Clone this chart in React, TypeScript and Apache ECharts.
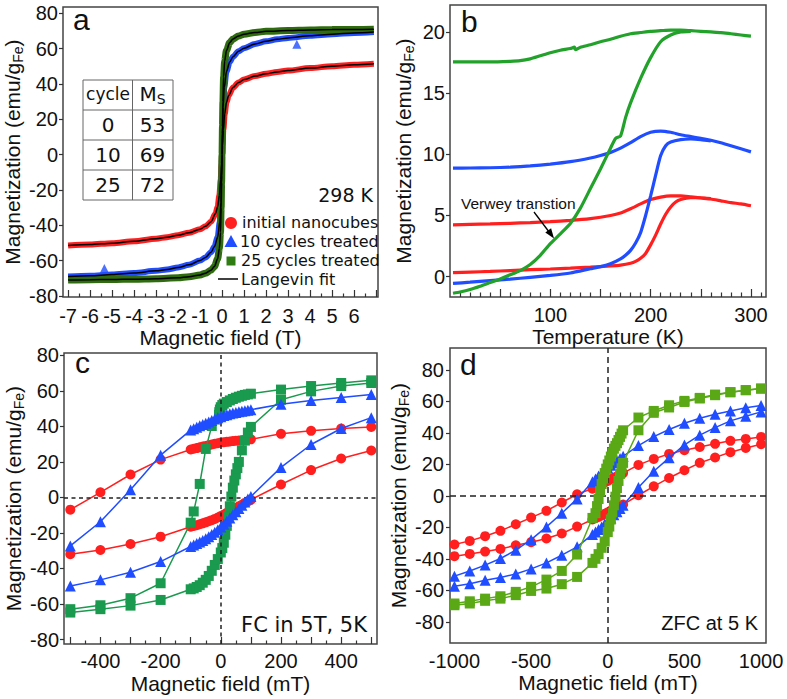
import React, { useEffect, useRef } from 'react';
import * as echarts from 'echarts';

type P = [number, number];

// ---------------- Panel a : M(H) at 298 K ----------------
const aInitial: P[] = [[-7,-51.5],[-6,-50.9],[-5,-50.1],[-4,-49],[-3,-47.6],[-2.5,-46.7],[-2,-45.6],[-1.5,-44.2],[-1,-42.2],[-0.75,-40.6],[-0.5,-38],[-0.3,-33.5],[-0.2,-29.5],[-0.12,-23],[-0.06,-14],[-0.02,-5],[0,0],[0.02,5],[0.06,14],[0.12,23],[0.2,29.5],[0.3,33.5],[0.5,38],[0.75,40.8],[1,42.5],[1.5,44.5],[2,45.8],[2.5,46.8],[3,47.6],[4,49],[5,50.1],[6,50.9],[6.9,51.5]];
const aCycles10: P[] = [[-7,-69],[-6,-68.6],[-5,-67.9],[-4,-67],[-3,-65.8],[-2.5,-65],[-2,-63.9],[-1.5,-62.4],[-1,-60],[-0.75,-58.2],[-0.5,-55.2],[-0.35,-52.2],[-0.2,-46.8],[-0.1,-38],[-0.05,-27],[-0.02,-12],[0,0],[0.02,12],[0.05,27],[0.1,38],[0.2,47],[0.35,52.5],[0.5,55.5],[0.75,58.5],[1,60.3],[1.5,62.7],[2,64.2],[2.5,65.3],[3,66.1],[4,67.3],[5,68.2],[6,68.9],[6.9,69.4]];
const aCycles25: P[] = [[-7,-71],[-6,-70.8],[-5,-70.7],[-4,-70.5],[-3,-70.2],[-2,-69.7],[-1.5,-69.1],[-1,-68.1],[-0.75,-67.1],[-0.5,-65.4],[-0.35,-63.4],[-0.2,-59],[-0.12,-53],[-0.07,-44],[-0.04,-30],[-0.02,-16],[0,0],[0.02,16],[0.04,30],[0.07,44],[0.12,53],[0.2,59],[0.35,63.5],[0.5,65.5],[0.75,67.2],[1,68.2],[1.5,69.2],[2,69.8],[3,70.3],[4,70.6],[5,70.8],[6,70.9],[6.9,71]];
const aOutliers10: P[] = [[-5.35,-64.5],[3.4,62.5]];
const aFieldLabels = [-7,-6,-5,-4,-3,-2,-1,0,1,2,3,4,5,6];
const aFieldMajor = [-7,-6,-5,-4,-3,-2,-1,0,1,2,3,4,5,6,7];
const aFieldMinor = [-6.5,-5.5,-4.5,-3.5,-2.5,-1.5,-0.5,0.5,1.5,2.5,3.5,4.5,5.5,6.5];
const mLabels80 = [-80,-60,-40,-20,0,20,40,60,80];
const tableHead = ['cycle', 'Ms'];
const tableCycles = ['0', '10', '25'];
const tableMs = ['53', '69', '72'];
const legendNames = ['initial nanocubes', '10 cycles treated', '25 cycles treated', 'Langevin fit'];

// ---------------- Panel b : ZFC / FC vs T ----------------
const bInitialZFC: P[] = [[3,0.33],[20,0.38],[40,0.43],[60,0.5],[80,0.57],[100,0.63],[120,0.7],[140,0.78],[160,0.88],[170,0.95],[180,1.1],[185,1.25],[190,1.5],[195,1.9],[200,2.6],[205,3.4],[210,4.3],[215,5.1],[220,5.7],[225,6.1],[230,6.3],[240,6.45],[250,6.45],[260,6.38]];
const bInitialFC: P[] = [[3,4.23],[20,4.27],[40,4.31],[60,4.36],[80,4.42],[100,4.5],[120,4.6],[140,4.75],[160,5.0],[170,5.2],[180,5.55],[190,5.95],[200,6.3],[210,6.5],[220,6.6],[230,6.6],[240,6.52],[250,6.43],[260,6.35],[270,6.2],[280,6.05],[290,5.95],[300,5.8]];
const b10ZFC: P[] = [[3,-0.55],[20,-0.45],[40,-0.32],[60,-0.2],[80,-0.05],[100,0.1],[120,0.3],[140,0.65],[150,0.82],[160,1.05],[170,1.45],[175,1.75],[180,2.15],[185,2.75],[190,3.6],[195,5.0],[200,6.6],[205,8.3],[210,9.9],[215,10.7],[220,11.0],[230,11.2],[240,11.25],[250,11.2],[260,11.1]];
const b10FC: P[] = [[3,8.87],[20,8.88],[40,8.9],[60,8.95],[80,9.05],[100,9.2],[120,9.4],[140,9.7],[150,9.9],[160,10.15],[170,10.5],[180,10.95],[190,11.45],[200,11.8],[210,11.9],[220,11.8],[230,11.6],[240,11.45],[250,11.3],[260,11.15],[270,10.95],[280,10.7],[290,10.45],[300,10.2]];
const b25ZFC: P[] = [[3,-1.35],[10,-1.25],[20,-1.05],[30,-0.78],[40,-0.48],[50,-0.18],[60,0.15],[70,0.5],[80,1.0],[90,1.75],[100,2.7],[110,3.5],[120,4.35],[130,5.6],[140,7.2],[150,8.8],[160,10.5],[165,11.3],[170,11.5],[175,13.0],[180,14.2],[190,16.2],[200,17.9],[210,19.2],[220,19.75],[230,20.0],[240,20.05]];
const b25FC: P[] = [[3,17.55],[20,17.55],[40,17.55],[60,17.6],[70,17.65],[80,17.8],[90,18.05],[100,18.3],[110,18.5],[120,18.65],[124,18.75],[125,18.55],[130,18.75],[140,18.95],[150,19.2],[160,19.4],[170,19.65],[180,19.85],[190,19.95],[200,20.05],[210,20.1],[220,20.15],[230,20.15],[240,20.1],[250,20.05],[260,20.0],[270,19.95],[280,19.85],[290,19.75],[300,19.65]];
const bTempLabels = [100, 200, 300];
const bTempMajor = [50, 100, 150, 200, 250, 300];
const bTempMinor = [10,20,30,40,60,70,80,90,110,120,130,140,160,170,180,190,210,220,230,240,260,270,280,290,310];
const bMLabels = [0, 5, 10, 15, 20];

// ---------------- Panel c : FC in 5 T, 5 K ----------------
const cInitialDesc: P[] = [[500,39.7],[400,38.8],[300,37.5],[200,35.8],[100,32.7],[90,32.6],[80,32.4],[70,32.2],[60,32],[50,31.9],[40,31.7],[30,31.5],[20,31.3],[10,31.1],[0,30.9],[-10,30.5],[-20,30.2],[-30,29.8],[-40,29.4],[-50,29],[-60,28.6],[-70,28.2],[-80,27.8],[-90,27.4],[-100,27],[-200,21.3],[-300,12.9],[-400,2.9],[-500,-6.9]];
const cInitialAsc: P[] = [[-500,-32],[-400,-29.6],[-300,-26.2],[-200,-22.1],[-100,-16.5],[-90,-16.1],[-80,-15.6],[-70,-15.1],[-60,-14.6],[-50,-14],[-40,-13.4],[-30,-12.8],[-20,-12.1],[-10,-11.3],[0,-10.5],[10,-9.6],[20,-8.7],[30,-7.8],[40,-6.9],[50,-6],[60,-5],[70,-4.1],[80,-3.1],[90,-2.2],[100,-1.3],[200,7.3],[300,15.4],[400,21.9],[500,26.4]];
const c10Desc: P[] = [[500,57.9],[400,56.2],[300,54.5],[200,52.4],[100,49.4],[90,49.1],[80,48.8],[70,48.5],[60,48.2],[50,47.8],[40,47.5],[30,47.1],[20,46.6],[10,46.1],[0,45.4],[-10,44.8],[-20,44.1],[-30,43.3],[-40,42.5],[-50,41.8],[-60,41],[-70,40.3],[-80,39.5],[-90,38.7],[-100,37.9],[-200,23.8],[-300,4.3],[-400,-13.7],[-500,-27.3]];
const c10Asc: P[] = [[-500,-49.8],[-400,-46.4],[-300,-42.1],[-200,-36.1],[-100,-27.6],[-90,-26.8],[-80,-26],[-70,-25.1],[-60,-24.2],[-50,-23.2],[-40,-22.1],[-30,-20.9],[-20,-19.6],[-10,-18.2],[0,-16.7],[10,-15.1],[20,-13.4],[30,-11.6],[40,-9.8],[50,-8],[60,-6.2],[70,-4.4],[80,-2.6],[90,-0.9],[100,0.5],[200,16.9],[300,29.8],[400,38.8],[500,44.9]];
const c25Desc: P[] = [[500,65.9],[400,64.4],[300,62.7],[200,60.7],[100,58.4],[90,58],[80,57.7],[70,57.2],[60,56.7],[50,56.1],[40,55.4],[30,54.6],[20,53.7],[10,52.8],[5,52],[0,50.8],[-3,49.5],[-5,48],[-6,46.5],[-30,40.2],[-50,27.3],[-70,7.6],[-90,-7.9],[-100,-14.2],[-200,-48.3],[-300,-56.7],[-400,-60.7],[-500,-62.9]];
const c25Asc: P[] = [[-500,-64.8],[-400,-62.9],[-300,-60.9],[-200,-57.7],[-100,-51.7],[-90,-51.2],[-80,-50.4],[-70,-49.4],[-60,-48],[-50,-46.4],[-40,-44.2],[-30,-41.3],[-20,-38],[-10,-34.7],[0,-31],[5,-28.5],[10,-25.5],[15,-21],[20,-16],[25,-10.5],[30,-5],[35,0.5],[40,5.5],[45,9.5],[50,13],[55,16.5],[60,20],[70,26.5],[80,32],[90,36.5],[100,39.7],[200,55],[300,59.7],[400,62.7],[500,64.4]];
const cFieldLabels = [-400, -200, 0, 200, 400];
const cFieldMajor = [-500,-400,-300,-200,-100,0,100,200,300,400,500];
const cFieldMinor = [-450,-350,-250,-150,-50,50,150,250,350,450];

// ---------------- Panel d : ZFC at 5 K ----------------
const dInitialDesc: P[] = [[1000,37.5],[900,36.2],[800,35],[700,33.1],[600,31.1],[500,29],[400,26.7],[300,23.5],[200,19.7],[100,14.5],[80,13.5],[60,12.5],[40,11.5],[20,10.5],[0,9.5],[-20,8.5],[-40,7.5],[-60,6.5],[-80,5.5],[-100,4.6],[-200,1],[-300,-4.2],[-400,-9.5],[-500,-13.8],[-600,-18],[-700,-22.2],[-800,-25.6],[-900,-28.6],[-1000,-30.9]];
const dInitialAsc: P[] = [[-1000,-38.3],[-900,-36.9],[-800,-35.4],[-700,-33.7],[-600,-31.4],[-500,-29.4],[-400,-27.1],[-300,-23.9],[-200,-19.5],[-100,-15],[-80,-14.2],[-60,-13.3],[-40,-12.4],[-20,-11.4],[0,-10.4],[20,-9.4],[40,-8.4],[60,-7.4],[80,-6.4],[100,-5.5],[200,0.4],[300,6.1],[400,11.4],[500,16.3],[600,21],[700,24.4],[800,27.8],[900,30.5],[1000,32.8]];
const d10Desc: P[] = [[1000,57.4],[900,56],[800,54],[700,51.9],[600,49.4],[500,46.2],[400,42.2],[300,37.7],[200,32],[100,25.2],[80,23.8],[60,22.4],[40,21],[20,19.5],[0,17.8],[-20,16],[-40,14.3],[-60,12.6],[-80,10.8],[-100,9],[-200,-1.9],[-300,-11],[-400,-19.7],[-500,-27.8],[-600,-34.5],[-700,-39.8],[-800,-44],[-900,-47.7],[-1000,-51]];
const d10Asc: P[] = [[-1000,-57.4],[-900,-55.9],[-800,-53.6],[-700,-51.9],[-600,-49.6],[-500,-46.4],[-400,-42.6],[-300,-37.7],[-200,-32.4],[-100,-24.5],[-80,-23],[-60,-21.4],[-40,-19.7],[-20,-17.9],[0,-16],[20,-14],[40,-12],[60,-10],[80,-8],[100,-6],[200,5.3],[300,15.7],[400,24.2],[500,32.4],[600,38.6],[700,43.4],[800,47.7],[900,50.6],[1000,53.4]];
const d25Desc: P[] = [[1000,68.2],[900,67.2],[800,65.9],[700,64.4],[600,62.3],[500,60.4],[400,57.6],[300,54],[200,49.8],[100,41.7],[90,39.6],[80,37.5],[70,35.5],[60,33.5],[50,31.8],[40,30],[30,27.5],[20,25],[10,22.5],[0,20],[-10,17.3],[-20,14.5],[-30,11],[-40,7.5],[-50,3],[-60,-2],[-70,-6.5],[-80,-11],[-100,-14],[-200,-37.3],[-300,-47.7],[-400,-53.2],[-500,-57.8],[-600,-61],[-700,-63.8],[-800,-65.3],[-900,-67],[-1000,-68.4]];
const d25Asc: P[] = [[-1000,-69.5],[-900,-68.4],[-800,-66.7],[-700,-65.3],[-600,-63.1],[-500,-60.4],[-400,-58.9],[-300,-56.1],[-200,-51.5],[-100,-42.6],[-80,-40],[-60,-37],[-40,-33],[-20,-29],[0,-23],[10,-19.5],[20,-15],[30,-10.5],[40,-6],[50,-0.5],[60,5],[70,9.5],[80,14],[90,17.5],[100,21],[200,41.7],[300,52.8],[400,56.2],[500,59.7],[600,61.9],[700,64],[800,65.9],[900,67.2],[1000,68.2]];
const dFieldLabels = [-1000, -500, 0, 500, 1000];

// ---------------- styling ----------------
const FONT_AX = "'Liberation Sans', Arial, sans-serif";
const FONT_NARROW = "'Liberation Sans Narrow', 'Arial Narrow', 'Liberation Sans', sans-serif";
const FONT_TX = "'DejaVu Sans', Verdana, sans-serif";
const INK = '#111';
const RED = '#ff1f1f';
const BLUE = '#1f4dff';
const GREEN_A = '#2f6c10';
const GREEN_B = '#22a22a';
const GREEN_C = '#1a9a4e';
const GREEN_D = '#5aa816';

const yNameText = '{n|Magnetization (emu/g}{s|Fe}{n|)}';
const yNameStyle = {
  fontFamily: FONT_AX, fontSize: 21, color: INK,
  rich: {
    n: { fontFamily: FONT_AX, fontSize: 21, color: INK, lineHeight: 26 },
    s: { fontFamily: FONT_AX, fontSize: 14, color: INK, lineHeight: 14, verticalAlign: 'bottom' },
  },
};

function axis(o: any) {
  const left = o.pos === 'left';
  return {
    type: 'value', gridIndex: o.grid, min: o.min, max: o.max, position: o.pos, offset: 0,
    name: o.name || '', nameLocation: 'middle', nameGap: o.nameGap || 0,
    nameRotate: left ? 90 : 0,
    nameTextStyle: left ? yNameStyle : { fontFamily: FONT_AX, fontSize: 21, color: INK },
    axisLine: { show: false, onZero: false },
    axisTick: o.ticks
      ? { show: true, inside: !!o.inside, length: o.tickLen || 5, customValues: o.ticks, lineStyle: { color: '#333', width: 1.2 } }
      : { show: false },
    axisLabel: o.labels
      ? { show: true, customValues: o.labels, margin: o.margin, formatter: (v: number) => String(v), fontFamily: FONT_AX, fontSize: 20, color: INK }
      : { show: false },
    splitLine: { show: false },
    splitArea: { show: false },
  };
}

function bandLine(name: string, data: P[], color: string, width: number, z: number) {
  return { name, type: 'line', xAxisIndex: 0, yAxisIndex: 0, data, showSymbol: false, symbol: 'none', smooth: 0.3, smoothMonotone: 'x', lineStyle: { color, width }, z };
}

function markerLine(data: P[], xi: number, yi: number, color: string, symbol: string, size: number, z: number) {
  return { type: 'line', xAxisIndex: xi, yAxisIndex: yi, data, symbol, symbolSize: size, showSymbol: true, itemStyle: { color }, lineStyle: { color, width: 1.5 }, z };
}

function tLine(data: P[], color: string) {
  return { type: 'line', xAxisIndex: 1, yAxisIndex: 1, data, showSymbol: false, symbol: 'none', smooth: 0.2, lineStyle: { color, width: 3.2 }, z: 3 };
}

function zeroLines(xi: number, yi: number, dash: number[]) {
  return {
    type: 'line', xAxisIndex: xi, yAxisIndex: yi, data: [], symbol: 'none', z: 1,
    markLine: {
      silent: true, symbol: 'none', label: { show: false },
      lineStyle: { color: '#222', width: 1.5, type: dash },
      data: [{ xAxis: 0 }, { yAxis: 0 }],
    },
  };
}

function txt(x: number, y: number, text: string, font: string, size: number, align = 'left', extra: any = {}) {
  return {
    type: 'text', x, y, z: 100,
    style: { text, fontFamily: font, fontSize: size, fill: INK, align, textAlign: align, verticalAlign: 'middle', textVerticalAlign: 'middle', ...extra },
  };
}

function buildOption() {
  const gridStyle = { show: true, borderColor: '#444', borderWidth: 1.5, backgroundColor: 'transparent', containLabel: false };
  const grid = [
    { left: 63, top: 7, width: 315, height: 290, ...gridStyle },
    { left: 450, top: 5, width: 316, height: 292, ...gridStyle },
    { left: 64, top: 353, width: 313, height: 291, ...gridStyle },
    { left: 450, top: 348, width: 316, height: 295, ...gridStyle },
  ];

  const xAxis = [
    axis({ grid: 0, pos: 'bottom', min: -7.23, max: 7.09, labels: aFieldLabels, ticks: aFieldMajor, inside: true, tickLen: 7, margin: 9, name: 'Magnetic field (T)', nameGap: 29 }),
    axis({ grid: 1, pos: 'bottom', min: 0, max: 315, labels: bTempLabels, ticks: bTempMajor, inside: true, tickLen: 8, margin: 8, name: 'Temperature (K)', nameGap: 26 }),
    axis({ grid: 2, pos: 'bottom', min: -521, max: 519, labels: cFieldLabels, ticks: cFieldMajor, inside: true, tickLen: 7, margin: 7, name: 'Magnetic field (mT)', nameGap: 29 }),
    axis({ grid: 3, pos: 'bottom', min: -1029, max: 1032, labels: dFieldLabels, margin: 8, name: 'Magnetic field (mT)', nameGap: 29 }),
    axis({ grid: 0, pos: 'bottom', min: -7.23, max: 7.09, ticks: aFieldMinor, inside: true, tickLen: 3.5 }),
    axis({ grid: 1, pos: 'bottom', min: 0, max: 315, ticks: bTempMinor, inside: true, tickLen: 4.5 }),
    axis({ grid: 2, pos: 'bottom', min: -521, max: 519, ticks: cFieldMinor, inside: true, tickLen: 3.5 }),
  ];
  const yAxis = [
    axis({ grid: 0, pos: 'left', min: -80.6, max: 83.6, labels: mLabels80, ticks: mLabels80, tickLen: 4, margin: 5, name: yNameText, nameGap: 37 }),
    axis({ grid: 1, pos: 'left', min: -1.66, max: 22.2, labels: bMLabels, ticks: bMLabels, tickLen: 4, margin: 5, name: yNameText, nameGap: 34 }),
    axis({ grid: 2, pos: 'left', min: -82.5, max: 81.3, labels: mLabels80, ticks: mLabels80, tickLen: 4, margin: 5, name: yNameText, nameGap: 38 }),
    axis({ grid: 3, pos: 'left', min: -93.5, max: 94, labels: mLabels80, ticks: mLabels80, tickLen: 4, margin: 6, name: yNameText, nameGap: 35 }),
  ];

  const series: any[] = [
    // panel a
    bandLine(legendNames[0], aInitial, RED, 6, 2),
    bandLine(legendNames[1], aCycles10, BLUE, 6, 2),
    bandLine(legendNames[2], aCycles25, GREEN_A, 7, 2),
    { type: 'scatter', xAxisIndex: 0, yAxisIndex: 0, data: aOutliers10, symbol: 'triangle', symbolSize: 9, itemStyle: { color: BLUE }, z: 2 },
    bandLine(legendNames[3], aInitial, '#000', 1.5, 5),
    bandLine(legendNames[3], aCycles10, '#000', 1.5, 5),
    bandLine(legendNames[3], aCycles25, '#000', 1.5, 5),
    // panel b
    tLine(bInitialZFC, RED), tLine(bInitialFC, RED),
    tLine(b10ZFC, BLUE), tLine(b10FC, BLUE),
    tLine(b25ZFC, GREEN_B), tLine(b25FC, GREEN_B),
    // panel c
    zeroLines(2, 2, [4, 3.5]),
    markerLine(cInitialDesc, 2, 2, RED, 'circle', 10, 3),
    markerLine(cInitialAsc, 2, 2, RED, 'circle', 10, 3),
    markerLine(c25Desc, 2, 2, GREEN_C, 'rect', 10, 4),
    markerLine(c25Asc, 2, 2, GREEN_C, 'rect', 10, 4),
    markerLine(c10Desc, 2, 2, BLUE, 'triangle', 11, 5),
    markerLine(c10Asc, 2, 2, BLUE, 'triangle', 11, 5),
    // panel d
    zeroLines(3, 3, [6, 4]),
    markerLine(dInitialDesc, 3, 3, RED, 'circle', 10, 3),
    markerLine(dInitialAsc, 3, 3, RED, 'circle', 10, 3),
    markerLine(d10Desc, 3, 3, BLUE, 'triangle', 11, 4),
    markerLine(d10Asc, 3, 3, BLUE, 'triangle', 11, 4),
    markerLine(d25Desc, 3, 3, GREEN_D, 'rect', 10, 5),
    markerLine(d25Asc, 3, 3, GREEN_D, 'rect', 10, 5),
  ];

  const tStroke = { stroke: '#666', lineWidth: 1, fill: 'none' };
  const graphic: any[] = [
    // panel letters
    txt(73, 19, 'a', FONT_AX, 30),
    txt(461, 21, 'b', FONT_AX, 30),
    txt(75, 362, 'c', FONT_AX, 30),
    txt(460, 364, 'd', FONT_AX, 30),
    // table
    { type: 'rect', z: 100, shape: { x: 83, y: 80, width: 90, height: 120 }, style: tStroke },
    { type: 'line', z: 100, shape: { x1: 132.5, y1: 80, x2: 132.5, y2: 200 }, style: tStroke },
    { type: 'line', z: 100, shape: { x1: 83, y1: 110, x2: 173, y2: 110 }, style: tStroke },
    { type: 'line', z: 100, shape: { x1: 83, y1: 140, x2: 173, y2: 140 }, style: tStroke },
    { type: 'line', z: 100, shape: { x1: 83, y1: 170, x2: 173, y2: 170 }, style: tStroke },
    txt(108, 94, tableHead[0], FONT_TX, 17, 'center'),
    txt(152.5, 94, '{m|M}{s|S}', FONT_TX, 20, 'center', {
      rich: {
        m: { fontFamily: FONT_TX, fontSize: 20, fill: INK, lineHeight: 24 },
        s: { fontFamily: FONT_TX, fontSize: 14, fill: INK, lineHeight: 14, verticalAlign: 'bottom' },
      },
    }),
    ...tableCycles.map((c, i) => txt(108, 125 + i * 30, c, FONT_TX, 20, 'center')),
    ...tableMs.map((m, i) => txt(152.5, 125 + i * 30, m, FONT_TX, 20, 'center')),
    // temperature label
    txt(373, 195, '298 K', FONT_TX, 19, 'right'),
    // legend
    { type: 'circle', z: 100, shape: { cx: 231, cy: 223, r: 6 }, style: { fill: RED } },
    txt(242, 222, legendNames[0], FONT_TX, 16),
    { type: 'polygon', z: 100, shape: { points: [[231, 235], [237.5, 247], [224.5, 247]] }, style: { fill: BLUE } },
    txt(240, 241, legendNames[1], FONT_TX, 16),
    { type: 'rect', z: 100, shape: { x: 226.5, y: 256.5, width: 9, height: 9 }, style: { fill: '#2f7d12' } },
    txt(241, 260, legendNames[2], FONT_TX, 16),
    { type: 'line', z: 100, shape: { x1: 218, y1: 279, x2: 238, y2: 279 }, style: { stroke: '#000', lineWidth: 1.5 } },
    txt(241, 279, legendNames[3], FONT_TX, 16),
    // panel b annotation
    txt(461, 203, 'Verwey transtion', FONT_AX, 15.5),
    { type: 'line', z: 100, shape: { x1: 534, y1: 212, x2: 551, y2: 234.5 }, style: { stroke: '#000', lineWidth: 1.3 } },
    { type: 'polygon', z: 100, shape: { points: [[554, 238.5], [545.3, 232.6], [551.1, 228.2]] }, style: { fill: '#000' } },
    // panel c / d annotations
    txt(367, 625, 'FC in 5T, 5K', FONT_TX, 21, 'right'),
    txt(758, 623, 'ZFC at 5 K', FONT_NARROW, 20, 'right'),
  ];

  return { animation: false, backgroundColor: '#fff', grid, xAxis, yAxis, series, graphic };
}

export default function App() {
  const ref = useRef<HTMLDivElement>(null);
  useEffect(() => {
    if (!ref.current) return;
    const chart = echarts.init(ref.current, undefined, { renderer: 'svg' });
    chart.setOption(buildOption() as any);
    return () => chart.dispose();
  }, []);
  return (
    <div
      ref={ref}
      style={{ position: 'fixed', left: 0, top: 0, width: 787, height: 699, background: '#fff' }}
    />
  );
}
